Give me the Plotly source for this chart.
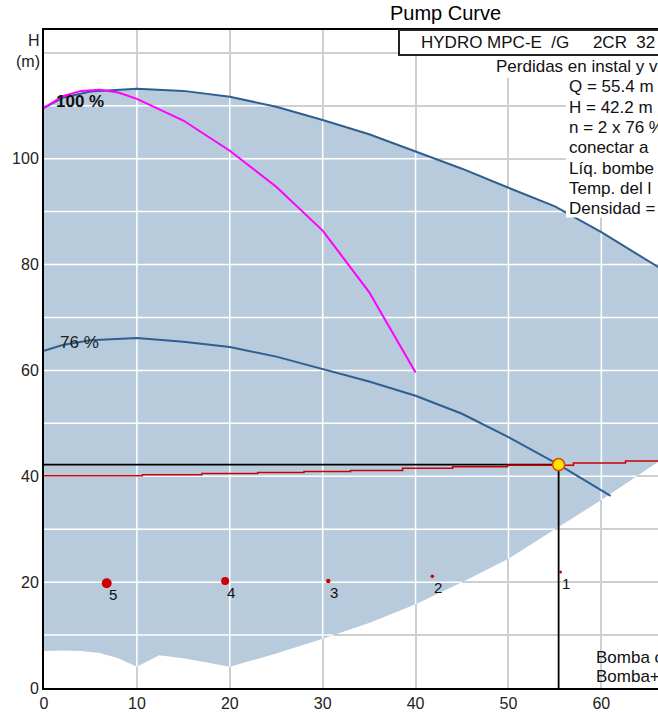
import numpy as np
import plotly.graph_objects as go

# ---------------- data ----------------
q_upper = [0, 2, 5, 10, 15, 20, 25, 30, 35, 40, 45, 50, 55, 60, 66.1, 68]
h_upper = [109.6, 111.5, 112.7, 113.2, 112.8, 111.7, 109.8, 107.3, 104.6, 101.3, 98.1, 94.5, 91.0, 86.1, 79.7, 77.5]

q_lower = [0, 2, 4, 6, 8, 10, 12.4, 15, 20, 25, 30, 35, 40, 45, 50, 55, 60, 66.1, 68]
h_lower = [7.0, 7.1, 7.0, 6.6, 5.6, 4.0, 6.2, 5.6, 4.0, 6.5, 9.3, 12.3, 15.8, 20.0, 24.4, 30.0, 35.5, 42.7, 45.0]

q_76 = [0, 2, 5, 10, 15, 20, 25, 30, 35, 40, 45, 50, 55.4, 61]
h_76 = [63.7, 64.8, 65.7, 66.1, 65.4, 64.4, 62.6, 60.3, 57.9, 55.2, 51.8, 47.4, 42.2, 36.3]

q_mag = [0, 2, 4, 6, 8, 10, 15, 20, 25, 30, 35, 40]
h_mag = [109.6, 111.8, 112.8, 113.0, 112.5, 111.3, 107.2, 101.5, 94.7, 86.4, 74.8, 59.6]

q_sys = [0, 10.6, 17, 23, 28, 33, 38.6, 44, 49.9, 57, 62.6, 68]
h_sys = [40.1, 40.3, 40.5, 40.7, 40.9, 41.1, 41.5, 41.8, 42.1, 42.5, 42.9, 42.9]

op_q = 55.4
op_h = 42.2

pt_labels = ["1", "2", "3", "4", "5"]
pt_q = [55.6, 41.8, 30.6, 19.5, 6.75]
pt_h = [21.9, 21.1, 20.2, 20.2, 19.8]

x_ticks = [0, 10, 20, 30, 40, 50, 60]
y_ticks = [0, 20, 40, 60, 80, 100]

info_lines = ["Q = 55.4 m", "H = 42.2 m", "n = 2 x 76 %", "conectar a", "Líq. bombe", "Temp. del l", "Densidad ="]
header_text = "HYDRO\u00a0MPC-E\u00a0\u00a0/G\u00a0\u00a0\u00a0\u00a0\u00a02CR\u00a0\u00a032"
losses_text = "Perdidas en instal y v"
bomba_lines = ["Bomba c", "Bomba+"]

# ---------------- styles ----------------
FILL = "#b8cbdc"
CURVE = "#2f5f90"
MAG = "#ff00ff"
RED = "#d00000"
GRID = "#cfcfcf"
FONT = "Liberation Sans, Arial, sans-serif"
TXT = "#111111"
dot_sizes = [3, 3.5, 4.5, 8, 10]

X_MAX = 66.1
Y_MAX = 124.3
L, T, B = 44, 30, 690
W_PLOT = 658 - L


def px_x(p):
    return (p - L) / W_PLOT


def px_y(p):
    return (B - p) / (B - T)


fig = go.Figure()

# envelope fill
fig.add_trace(go.Scatter(
    x=q_upper + q_lower[::-1], y=h_upper + h_lower[::-1],
    fill="toself", fillcolor=FILL, mode="lines", line=dict(width=0),
    hoverinfo="skip", showlegend=False))

# white grid lines inside the envelope
xs = np.linspace(0, 68, 2721)
up = np.interp(xs, q_upper, h_upper)
lo = np.interp(xs, q_lower, h_lower)
gx, gy = [], []
for g in range(10, 130, 10):
    mask = (lo < g) & (up > g)
    idx = np.where(mask)[0]
    if len(idx) == 0:
        continue
    runs = np.split(idx, np.where(np.diff(idx) > 1)[0] + 1)
    for r in runs:
        gx += [xs[r[0]], xs[r[-1]], None]
        gy += [g, g, None]
for g in range(10, 70, 10):
    gx += [g, g, None]
    gy += [float(np.interp(g, q_lower, h_lower)), float(np.interp(g, q_upper, h_upper)), None]
fig.add_trace(go.Scatter(x=gx, y=gy, mode="lines", line=dict(color="white", width=1.5),
                         hoverinfo="skip", showlegend=False))

# 100 % curve
fig.add_trace(go.Scatter(x=q_upper, y=h_upper, mode="lines", line=dict(color=CURVE, width=2),
                         showlegend=False))
# 76 % curve
fig.add_trace(go.Scatter(x=q_76, y=h_76, mode="lines", line=dict(color=CURVE, width=2),
                         showlegend=False))
# magenta limit
fig.add_trace(go.Scatter(x=q_mag, y=h_mag, mode="lines", line=dict(color=MAG, width=2),
                         showlegend=False))
# operating point guide lines
fig.add_trace(go.Scatter(x=[0, op_q, None, op_q, op_q], y=[op_h, op_h, None, 0, op_h],
                         mode="lines", line=dict(color="black", width=1.8), showlegend=False))
# system curve
fig.add_trace(go.Scatter(x=q_sys, y=h_sys, mode="lines", line=dict(color=RED, width=1.5, shape="hv"),
                         showlegend=False))
# numbered points
fig.add_trace(go.Scatter(x=pt_q, y=pt_h, mode="markers",
                         marker=dict(color=RED, size=dot_sizes, opacity=1, line=dict(width=0)),
                         showlegend=False))
# operating point
fig.add_trace(go.Scatter(x=[op_q], y=[op_h], mode="markers",
                         marker=dict(color="#ffe400", size=12, line=dict(color="#e04a00", width=1.5)),
                         showlegend=False))

annotations = []
for lab, q, h in zip(pt_labels, pt_q, pt_h):
    annotations.append(dict(x=q, y=h, text=lab, showarrow=False, xshift=6, yshift=-11,
                            font=dict(size=15, color=TXT, family=FONT)))

annotations += [
    dict(x=3.9, y=110.7, text="<b>100 %</b>", showarrow=False, font=dict(size=17, color=TXT, family=FONT)),
    dict(x=3.8, y=65.3, text="76 %", showarrow=False, font=dict(size=17, color="#222", family=FONT)),
    dict(xref="paper", yref="paper", x=px_x(445), y=px_y(0), text="Pump Curve", showarrow=False,
         xanchor="center", yanchor="top", font=dict(size=20, color="black", family=FONT)),
    dict(xref="paper", yref="paper", x=px_x(34), y=px_y(41), text="H", showarrow=False,
         xanchor="center", yanchor="middle", font=dict(size=16, color="#222", family=FONT)),
    dict(xref="paper", yref="paper", x=px_x(28), y=px_y(62), text="(m)", showarrow=False,
         xanchor="center", yanchor="middle", font=dict(size=16, color="#222", family=FONT)),
    dict(xref="paper", yref="paper", x=px_x(419), y=px_y(43), text=header_text, showarrow=False,
         xanchor="left", yanchor="middle", font=dict(size=17, color=TXT, family=FONT)),
    dict(xref="paper", yref="paper", x=px_x(494), y=px_y(67), text=losses_text, showarrow=False,
         xanchor="left", yanchor="middle", font=dict(size=17, color=TXT, family=FONT)),
    dict(xref="paper", yref="paper", x=px_x(594), y=px_y(659), text=bomba_lines[0], showarrow=False,
         xanchor="left", yanchor="middle", font=dict(size=17, color=TXT, family=FONT)),
    dict(xref="paper", yref="paper", x=px_x(594), y=px_y(678), text=bomba_lines[1], showarrow=False,
         xanchor="left", yanchor="middle", font=dict(size=17, color=TXT, family=FONT)),
]
for i, line in enumerate(info_lines):
    annotations.append(dict(xref="paper", yref="paper", x=px_x(567), y=px_y(87 + 20.4 * i), text=line,
                            showarrow=False, xanchor="left", yanchor="middle",
                            font=dict(size=17, color=TXT, family=FONT)))

shapes = [
    dict(type="rect", xref="paper", yref="paper", x0=px_x(492), x1=1.3, y0=px_y(78), y1=px_y(55),
         line=dict(width=0), fillcolor="white", layer="above"),
    dict(type="rect", xref="paper", yref="paper", x0=px_x(566), x1=1.3, y0=px_y(218), y1=px_y(77),
         line=dict(width=0), fillcolor="white", layer="above"),
    dict(type="rect", xref="paper", yref="paper", x0=px_x(399), x1=1.3, y0=px_y(55), y1=1.0,
         line=dict(color="#222", width=2), fillcolor="white", layer="above"),
]

fig.update_layout(
    width=658, height=712,
    margin=dict(l=L, r=0, t=T, b=712 - B),
    paper_bgcolor="white", plot_bgcolor="white",
    showlegend=False,
    font=dict(family=FONT, size=16, color="#222"),
    annotations=annotations,
    shapes=shapes,
    xaxis=dict(range=[0, X_MAX], tickvals=x_ticks, ticktext=[str(v) for v in x_ticks],
               showgrid=True, gridcolor=GRID, gridwidth=1.5,
               showline=True, linecolor="black", linewidth=2, mirror=True,
               zeroline=False, ticks="", tickfont=dict(size=16, color="#222")),
    yaxis=dict(range=[0, Y_MAX], tickvals=y_ticks, ticktext=[str(v) for v in y_ticks],
               showgrid=True, gridcolor=GRID, gridwidth=1.5,
               minor=dict(tickvals=list(range(10, 130, 10)), showgrid=True, gridcolor=GRID, gridwidth=1.5),
               showline=True, linecolor="black", linewidth=2, mirror=False,
               zeroline=False, ticks="", tickfont=dict(size=16, color="#222")),
)

fig.write_html("out.html", config={"displayModeBar": False},
               post_script="document.body.style.margin='0px';document.body.style.overflow='hidden';")
